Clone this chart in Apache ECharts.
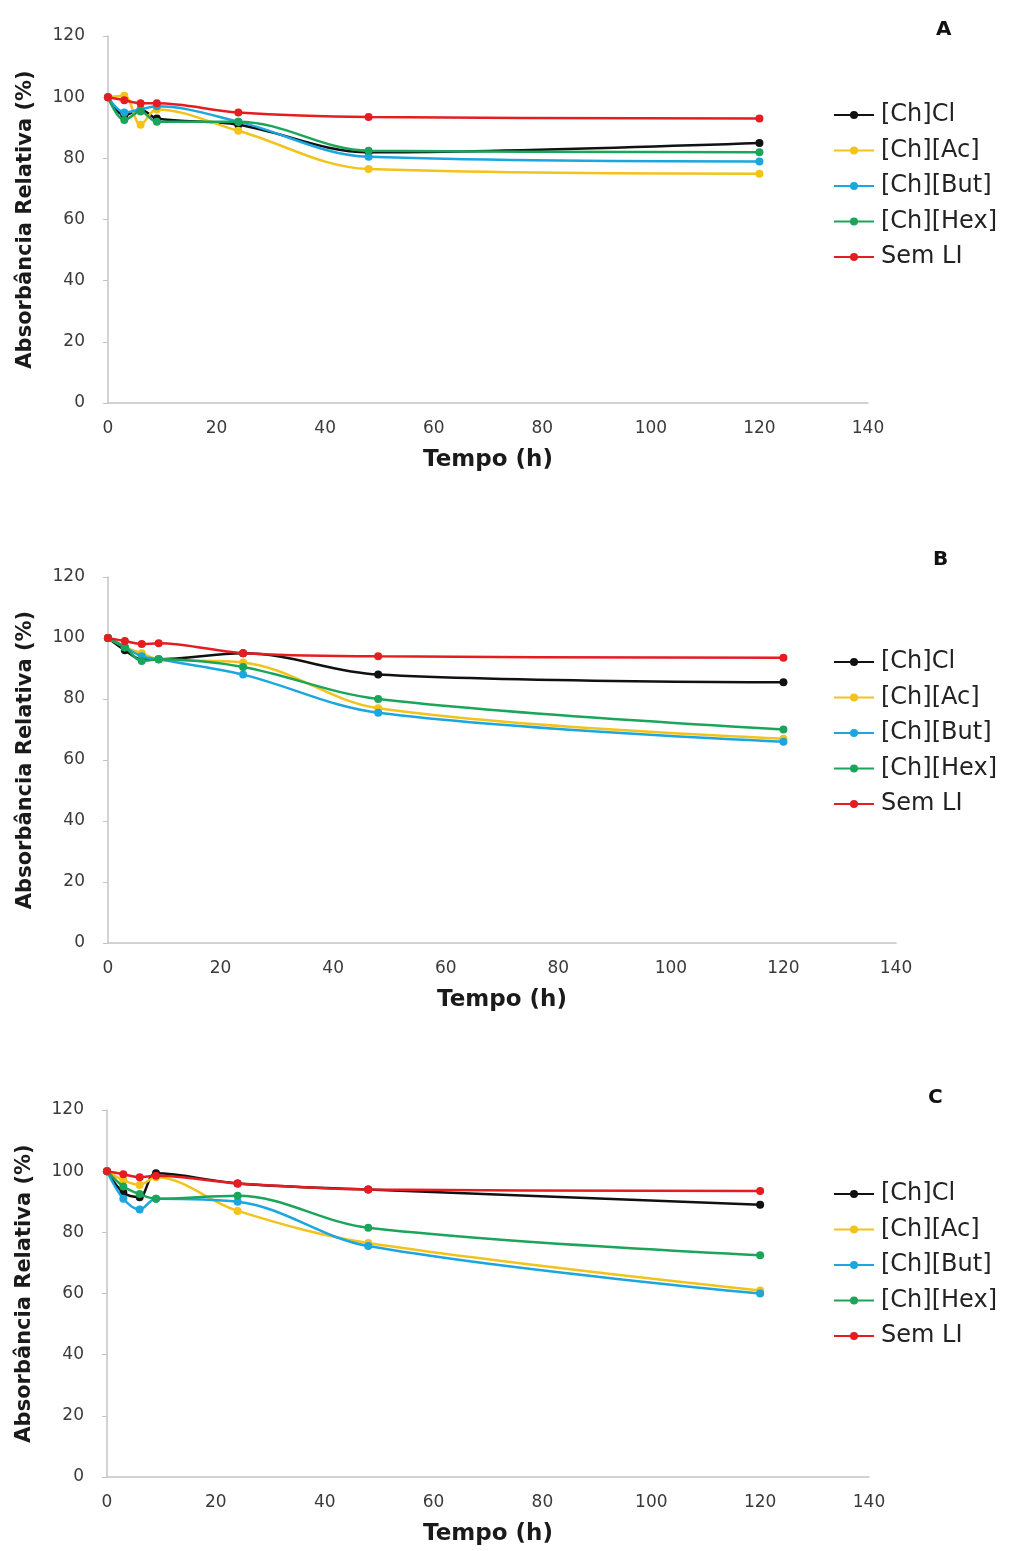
<!DOCTYPE html>
<html><head><meta charset="utf-8">
<script src="https://cdn.jsdelivr.net/npm/echarts@6/dist/echarts.min.js"></script>
<style>html,body{margin:0;padding:0;background:#fff}#c{width:1009px;height:1551px}</style>
</head><body><div id="c"></div>
<script>
var timeH = [0, 3, 6, 9, 24, 48, 120];
var seriesNames = ['[Ch]Cl', '[Ch][Ac]', '[Ch][But]', '[Ch][Hex]', 'Sem LI'];
var panelTitles = ['A', 'B', 'C'];
var yTicks = [0, 20, 40, 60, 80, 100, 120];
var xTicks = [0, 20, 40, 60, 80, 100, 120, 140];

// Panel A
var A_ChCl  = [100, 94, 96, 93, 91, 82, 85];
var A_ChAc  = [100, 100.5, 91, 96, 89, 76.5, 75];
var A_ChBut = [100, 95, 96, 97, 92, 80.5, 79];
var A_ChHex = [100, 92.5, 95.3, 92, 92, 82.5, 82];
var A_Sem   = [100, 99, 98, 98, 95, 93.5, 93];
// Panel B
var B_ChCl  = [100, 96, 93, 93, 95, 88, 85.5];
var B_ChAc  = [100, 97, 95, 93, 92, 77, 67];
var B_ChBut = [100, 97, 94, 93, 88, 75.5, 66];
var B_ChHex = [100, 97, 92.5, 93, 90.5, 80, 70];
var B_Sem   = [100, 99, 98, 98.3, 95, 94, 93.5];
// Panel C
var C_ChCl  = [100, 93, 91.5, 99.3, 96, 94, 89];
var C_ChAc  = [100, 97, 95.5, 98, 87, 76.5, 61];
var C_ChBut = [100, 91, 87.5, 91, 90, 75.5, 60];
var C_ChHex = [100, 95, 92.5, 91, 92, 81.5, 72.5];
var C_Sem   = [100, 99, 98, 98.5, 96, 94, 93.5];

var panelData = [
  [A_ChCl, A_ChAc, A_ChBut, A_ChHex, A_Sem],
  [B_ChCl, B_ChAc, B_ChBut, B_ChHex, B_Sem],
  [C_ChCl, C_ChAc, C_ChBut, C_ChHex, C_Sem]
];
var colors = ['#111111', '#f2c31b', '#1ca6df', '#1aa55a', '#e51c20'];

var grids = [
  {left: 108, right: 141, top: 36, height: 367},
  {left: 108, right: 113, top: 577, height: 366},
  {left: 107, right: 140, top: 1110, height: 367}
];
var titlePos = [[931, 15], [928, 545], [923, 1083]];
var legendTop = [98, 645, 1177];

var fontFam = '"DejaVu Sans", "Liberation Sans", Arial, sans-serif';
var option = {
  animation: false,
  backgroundColor: '#fff',
  color: colors,
  title: [], grid: [], xAxis: [], yAxis: [], legend: [], series: []
};
for (var p = 0; p < 3; p++) {
  option.title.push({text: panelTitles[p], left: titlePos[p][0], top: titlePos[p][1],
    textStyle: {fontFamily: fontFam, fontWeight: 'bold', fontSize: 20, color: '#111'}});
  option.grid.push(grids[p]);
  option.xAxis.push({type: 'value', gridIndex: p, min: 0, max: 140, interval: 20,
    name: 'Tempo (h)', nameLocation: 'middle', nameGap: 46,
    nameTextStyle: {fontFamily: fontFam, fontWeight: 'bold', fontSize: 23, color: '#1a1a1a'},
    axisLine: {show: true, lineStyle: {color: '#c4c4c4', width: 1.5}},
    axisTick: {show: false},
    axisLabel: {fontFamily: fontFam, fontSize: 17, color: '#3a3a3a', margin: 17},
    splitLine: {show: false}});
  option.yAxis.push({type: 'value', gridIndex: p, min: 0, max: 120, interval: 20,
    name: 'Absorbância Relativa (%)', nameLocation: 'middle', nameGap: 72,
    nameTextStyle: {fontFamily: fontFam, fontWeight: 'bold', fontSize: 21, color: '#1a1a1a'},
    axisLine: {show: true, lineStyle: {color: '#c4c4c4', width: 1.5}},
    axisTick: {show: true, length: 5, lineStyle: {color: '#c4c4c4'}},
    axisLabel: {fontFamily: fontFam, fontSize: 17, color: '#3a3a3a', margin: 23},
    splitLine: {show: false}});
  option.legend.push({orient: 'vertical', left: 828, top: legendTop[p], itemGap: 11.5,
    itemWidth: 40, itemHeight: 10, data: seriesNames,
    textStyle: {fontFamily: fontFam, fontSize: 24, color: '#222', padding: [0, 0, 0, 2]}});
  for (var s = 0; s < 5; s++) {
    var vals = panelData[p][s];
    var d = [];
    for (var i = 0; i < timeH.length; i++) d.push([timeH[i], vals[i]]);
    option.series.push({type: 'line', name: seriesNames[s], xAxisIndex: p, yAxisIndex: p,
      data: d, smooth: 0.35, symbol: 'circle', symbolSize: 8,
      lineStyle: {width: 2.5, color: colors[s]}, itemStyle: {color: colors[s]}, z: 2 + s});
  }
}
var chart = echarts.init(document.getElementById('c'), null, {renderer: 'canvas'});
chart.setOption(option);
</script></body></html>
